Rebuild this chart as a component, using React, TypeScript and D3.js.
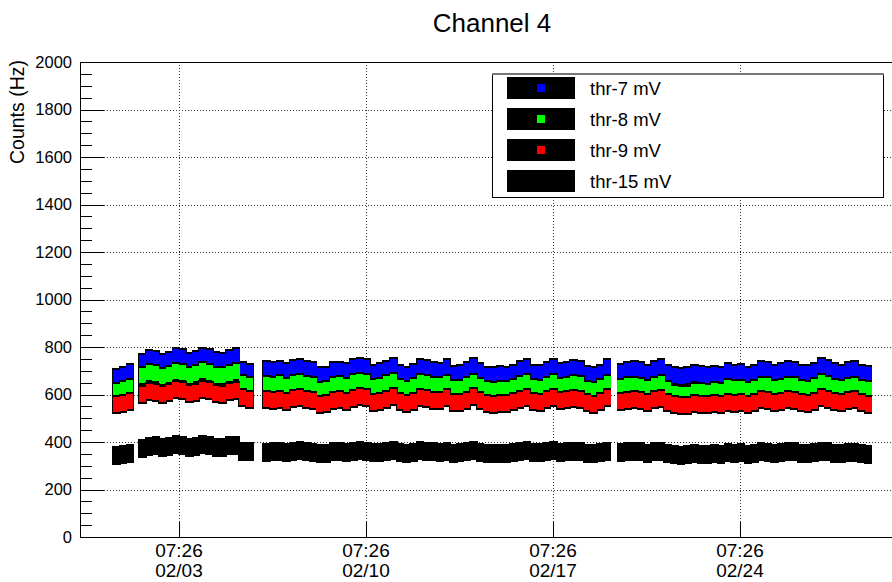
import React from "react";
import * as d3 from "d3";

// ---------- data ----------
const seriesNames = ["thr-7 mV", "thr-8 mV", "thr-9 mV", "thr-15 mV"];
const seriesColors = ["#0000ff", "#00ff00", "#ff0000", "#000000"];

// start time of each continuous run of data, one point every 6 hours
const segmentStarts = [
  "2021-01-31T23:15:00Z",
  "2021-02-01T22:40:00Z",
  "2021-02-06T14:00:00Z",
  "2021-02-19T20:30:00Z",
];
const stepHours = 6;

const thr7 = [
  [672, 682, 692],
  [735, 752, 748, 735, 745, 758, 755, 740, 748, 760, 755, 742, 738, 752, 760, 700, 692],
  [705, 700, 705, 695, 708, 712, 705, 700, 678, 680, 700, 702, 695, 712, 718, 715, 690, 695, 705, 718,
   690, 680, 692, 715, 708, 700, 698, 712, 685, 688, 700, 716, 695, 682, 680, 683, 682, 690, 705, 712,
   690, 688, 700, 712, 695, 700, 708, 705, 685, 678, 690, 715],
  [693, 700, 705, 700, 690, 705, 714, 690, 680, 676, 680, 690, 684, 680, 686, 682, 695, 690, 692, 682,
   690, 705, 700, 690, 695, 706, 702, 690, 688, 698, 716, 708, 695, 690, 700, 704, 690, 685],
];
const thr8 = [
  [612, 620, 630],
  [678, 692, 688, 676, 686, 698, 694, 680, 688, 700, 694, 682, 678, 690, 698, 648, 640],
  [642, 640, 645, 632, 648, 652, 644, 636, 618, 620, 640, 642, 634, 650, 656, 652, 630, 634, 646, 656,
   628, 620, 632, 652, 646, 638, 636, 648, 624, 626, 638, 652, 632, 620, 618, 620, 622, 628, 644, 650,
   628, 626, 638, 650, 634, 640, 646, 642, 622, 616, 628, 648],
  [628, 636, 640, 634, 624, 640, 648, 622, 604, 598, 602, 614, 612, 610, 616, 612, 628, 624, 626, 616,
   624, 640, 636, 624, 628, 640, 636, 624, 622, 632, 650, 642, 630, 624, 634, 638, 626, 620],
];
const thr9 = [
  [556, 564, 572],
  [598, 612, 610, 600, 608, 620, 616, 604, 610, 622, 616, 606, 600, 612, 618, 586, 578],
  [578, 575, 580, 570, 582, 586, 580, 574, 560, 562, 576, 578, 572, 585, 590, 586, 568, 572, 580, 590,
   570, 562, 572, 588, 582, 576, 574, 586, 566, 568, 576, 590, 574, 562, 560, 562, 564, 570, 580, 586,
   570, 568, 578, 588, 574, 578, 584, 580, 566, 560, 570, 586],
  [570, 575, 580, 574, 566, 578, 584, 566, 556, 552, 555, 564, 560, 556, 562, 558, 568, 564, 566, 558,
   565, 578, 574, 565, 570, 580, 576, 566, 564, 572, 586, 580, 570, 565, 574, 578, 566, 560],
];
const thr15 = [
  [342, 346, 352],
  [372, 382, 385, 378, 380, 388, 386, 378, 382, 390, 386, 378, 375, 384, 386, 362, 358],
  [356, 358, 362, 355, 360, 364, 360, 356, 350, 352, 358, 360, 355, 362, 366, 362, 354, 356, 360, 364,
   356, 352, 356, 364, 360, 358, 356, 362, 352, 354, 358, 364, 356, 350, 350, 352, 352, 356, 360, 364,
   356, 354, 358, 364, 356, 358, 362, 360, 352, 350, 356, 362],
  [356, 360, 362, 358, 352, 358, 362, 352, 346, 344, 346, 350, 348, 346, 350, 348, 354, 352, 354, 348,
   352, 358, 356, 350, 354, 360, 358, 352, 350, 356, 362, 358, 352, 350, 354, 356, 350, 346],
];
const allSeries = [thr7, thr8, thr9, thr15];

const xDomain = ["2021-01-30T14:30:00Z", "2021-03-02T07:12:00Z"];
const xTickDates = [
  "2021-02-03T07:26:00Z",
  "2021-02-10T07:26:00Z",
  "2021-02-17T07:26:00Z",
  "2021-02-24T07:26:00Z",
];
const yDomain = [0, 2000];
const yMajorTicks = [0, 200, 400, 600, 800, 1000, 1200, 1400, 1600, 1800, 2000];
const title = "Channel 4";
const yTitle = "Counts (Hz)";

// ---------- layout ----------
const W = 892;
const H = 582;
const left = 80;
const right = 900;
const top = 62;
const bottom = 537;
const FONT = "'Liberation Sans', Arial, Helvetica, sans-serif";

export default function App() {
  const x = d3
    .scaleUtc()
    .domain(xDomain.map((d) => new Date(d)))
    .range([left, right]);
  const y = d3.scaleLinear().domain(yDomain).range([bottom, top]);
  const fmtTime = d3.utcFormat("%H:%M");
  const fmtDate = d3.utcFormat("%m/%d");

  const minorTicks = d3.range(0, 2001, 50).filter((v) => v % 200 !== 0);

  const markW = 7;
  const markHalf = 7.5;
  const errW = 8.5;
  const errHalf = 9.5;

  const points = allSeries.map((segs) =>
    segs.flatMap((vals, si) => {
      const t0 = new Date(segmentStarts[si]).getTime();
      return vals.map((v, i) => ({
        t: new Date(t0 + i * stepHours * 3600 * 1000),
        v,
      }));
    })
  );

  const legendX = 492;
  const legendY = 73;
  const legendW = 391;
  const legendH = 124;

  return (
    <svg
      width={W}
      height={H}
      style={{ position: "absolute", left: 0, top: 0, background: "#fff" }}
      fontFamily={FONT}
    >
      <rect x={0} y={0} width={W} height={H} fill="#fff" />
      <defs>
        <clipPath id="frameClip">
          <rect x={left} y={top} width={right - left} height={bottom - top} />
        </clipPath>
      </defs>

      {/* grid */}
      <g stroke="#333" strokeDasharray="1,2" strokeWidth={1} shapeRendering="crispEdges">
        {yMajorTicks
          .filter((v) => v > 0 && v < 2000)
          .map((v) => (
            <line key={"gy" + v} x1={left} x2={right} y1={Math.round(y(v)) + 0.5} y2={Math.round(y(v)) + 0.5} />
          ))}
        {xTickDates.map((d) => {
          const xx = Math.round(x(new Date(d))) + 0.5;
          return <line key={"gx" + d} x1={xx} x2={xx} y1={top} y2={bottom} />;
        })}
      </g>

      {/* data */}
      <g clipPath="url(#frameClip)" shapeRendering="crispEdges">
        {points.map((pts, si) => (
          <g key={"s" + si}>
            {pts.map((p, i) => (
              <rect
                key={"e" + i}
                x={x(p.t) - errW / 2}
                y={y(p.v) - errHalf}
                width={errW}
                height={errHalf * 2}
                fill="#000"
              />
            ))}
            {pts.map((p, i) => (
              <rect
                key={"m" + i}
                x={x(p.t) - markW / 2}
                y={y(p.v) - markHalf}
                width={markW}
                height={markHalf * 2}
                fill={seriesColors[si]}
              />
            ))}
          </g>
        ))}
      </g>

      {/* frame */}
      <g stroke="#000" strokeWidth={1} shapeRendering="crispEdges" fill="none">
        <line x1={left + 0.5} x2={left + 0.5} y1={top} y2={bottom + 1} />
        <line x1={left} x2={right} y1={bottom + 0.5} y2={bottom + 0.5} />
        <line x1={left} x2={right} y1={top + 0.5} y2={top + 0.5} />
      </g>

      {/* y ticks */}
      <g stroke="#000" strokeWidth={1} shapeRendering="crispEdges">
        {yMajorTicks.map((v) => (
          <line key={"yt" + v} x1={left} x2={left + 24} y1={Math.round(y(v)) + 0.5} y2={Math.round(y(v)) + 0.5} />
        ))}
        {minorTicks.map((v) => (
          <line key={"ym" + v} x1={left} x2={left + 12} y1={Math.round(y(v)) + 0.5} y2={Math.round(y(v)) + 0.5} />
        ))}
        {xTickDates.map((d) => {
          const xx = Math.round(x(new Date(d))) + 0.5;
          return <line key={"xt" + d} x1={xx} x2={xx} y1={bottom} y2={bottom - 15} />;
        })}
      </g>

      {/* y tick labels */}
      <g fontSize={16.5} textAnchor="end" fill="#000">
        {yMajorTicks.map((v) => (
          <text key={"yl" + v} x={72} y={y(v)} dy="0.36em">
            {v}
          </text>
        ))}
      </g>

      {/* x tick labels */}
      <g fontSize={19} textAnchor="middle" fill="#000">
        {xTickDates.map((d) => {
          const dt = new Date(d);
          const xx = x(dt);
          return (
            <g key={"xl" + d}>
              <text x={xx} y={557}>{fmtTime(dt)}</text>
              <text x={xx} y={577}>{fmtDate(dt)}</text>
            </g>
          );
        })}
      </g>

      {/* titles */}
      <text x={492} y={32} fontSize={26} textAnchor="middle" fill="#000">
        {title}
      </text>
      <text
        transform={`translate(24,60) rotate(-90)`}
        fontSize={19.5}
        textAnchor="end"
        fill="#000"
      >
        {yTitle}
      </text>

      {/* legend */}
      <g>
        <rect
          x={legendX + 0.5}
          y={legendY + 0.5}
          width={legendW}
          height={legendH}
          fill="#fff"
          stroke="#000"
          strokeWidth={1}
          shapeRendering="crispEdges"
        />
        <line x1={legendX} x2={legendX + legendW + 1} y1={legendY + 0.5} y2={legendY + 0.5} stroke="#777" strokeWidth={2} shapeRendering="crispEdges" />
        {seriesNames.map((name, i) => {
          const cy = 88 + i * 31;
          return (
            <g key={"lg" + name}>
              <rect x={507} y={cy - 11} width={68} height={22} fill="#000" />
              <rect x={537} y={cy - 4} width={8} height={8} fill={seriesColors[i]} />
              <text x={590} y={cy} dy="0.36em" fontSize={18.5} fill="#000">
                {name}
              </text>
            </g>
          );
        })}
      </g>
    </svg>
  );
}
